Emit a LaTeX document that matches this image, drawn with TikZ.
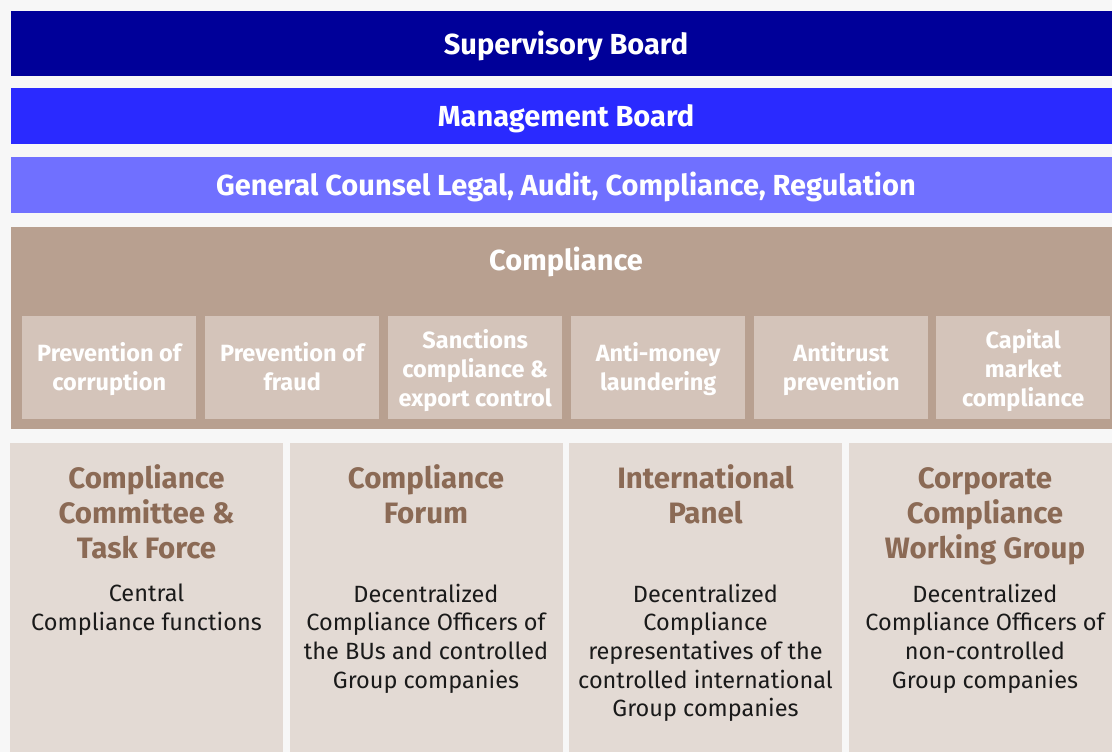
\documentclass[tikz,border=0pt]{standalone}
\usepackage{fontspec}
\setmainfont{Fira Sans}
\definecolor{bg}{HTML}{F7F7F7}
\definecolor{dblue}{HTML}{000099}
\definecolor{mblue}{HTML}{2A2AFF}
\definecolor{lblue}{HTML}{7070FF}
\definecolor{brown}{HTML}{B8A090}
\definecolor{subbrown}{HTML}{D4C4BA}
\definecolor{pale}{HTML}{E3DAD4}
\definecolor{titlebrown}{HTML}{8B6A55}
\definecolor{bodytext}{HTML}{1A1A1A}
\begin{document}
\begin{tikzpicture}[x=1pt,y=-1pt,
  bar/.style={fill=#1,draw=none,inner sep=0pt,minimum width=1101pt,anchor=north west},
  bartext/.style={text=white,font=\fontsize{29}{34}\selectfont\bfseries,inner sep=0pt,anchor=base},
  subbox/.style={fill=subbrown,draw=none,inner sep=0pt,minimum width=174pt,minimum height=103pt,anchor=north west},
  subtext/.style={text=white,font=\fontsize{23.5}{29}\selectfont\bfseries,align=center,inner sep=0pt,anchor=north},
  lowbox/.style={fill=pale,draw=none,inner sep=0pt,minimum width=273pt,minimum height=309pt,anchor=north west},
  lowtitle/.style={text=titlebrown,font=\fontsize{29.5}{35}\selectfont\bfseries,align=center,anchor=north,inner sep=0pt},
  lowbody/.style={text=bodytext,font=\fontsize{23.5}{28.7}\selectfont,align=center,anchor=north,inner sep=0pt}
]
\useasboundingbox (0,0) rectangle (1112,752);
\fill[bg] (0,0) rectangle (1112,752);

\node[bar=dblue,minimum height=65pt] (sb) at (11,11) {};
\node[bar=mblue,minimum height=56pt] (mb) at (11,88) {};
\node[bar=lblue,minimum height=56pt] (gc) at (11,157) {};
\node[bartext] (sbt) at (566,55) {Supervisory Board};
\node[bartext] (mbt) at (566,126) {Management Board};
\node[bartext] (gct) at (566,195.5) {General Counsel Legal, Audit, Compliance, Regulation};

\node[fill=brown,draw=none,inner sep=0pt,minimum width=1101pt,minimum height=202pt,anchor=north west] (comp) at (11,227) {};
\node[bartext] (comptitle) at (566,270) {Compliance};

\node[subbox] (s1) at (22,316) {};
\node[subbox] (s2) at (205,316) {};
\node[subbox] (s3) at (388,316) {};
\node[subbox] (s4) at (571,316) {};
\node[subbox] (s5) at (754,316) {};
\node[subbox] (s6) at (936,316) {};
\node[subtext] (s1t) at (s1.center |- 0,342.5) {Prevention of\\corruption};
\node[subtext] (s2t) at (s2.center |- 0,342.5) {Prevention of\\fraud};
\node[subtext] (s3t) at (s3.center |- 0,329) {Sanctions\\compliance \&\\export control};
\node[subtext] (s4t) at (s4.center |- 0,342.5) {Anti-money\\laundering};
\node[subtext] (s5t) at (s5.center |- 0,342.5) {Antitrust\\prevention};
\node[subtext] (s6t) at (s6.center |- 0,329) {Capital\\market\\compliance};

\node[lowbox] (b1) at (10,443) {};
\node[lowbox] (b2) at (290,443) {};
\node[lowbox] (b3) at (569,443) {};
\node[lowbox,minimum width=263pt] (b4) at (849,443) {};

\node[lowtitle] (t1) at (146.5,464) {Compliance\\Committee \&\\Task Force};
\node[lowtitle] (t2) at (426,464) {Compliance\\Forum};
\node[lowtitle] (t3) at (705.5,464) {International\\Panel};
\node[lowtitle] (t4) at (985,467) {Corporate\\Compliance\\Working Group};

\node[lowbody] (d1) at (146.5,583.5) {Central\\Compliance functions};
\node[lowbody] (d2) at (426,583.5) {Decentralized\\Compliance Officers of\\the BUs and controlled\\Group companies};
\node[lowbody] (d3) at (705.5,583.5) {Decentralized\\Compliance\\representatives of the\\controlled international\\Group companies};
\node[lowbody] (d4) at (985,583.5) {Decentralized\\Compliance Officers of\\non-controlled\\Group companies};
\end{tikzpicture}
\end{document}
